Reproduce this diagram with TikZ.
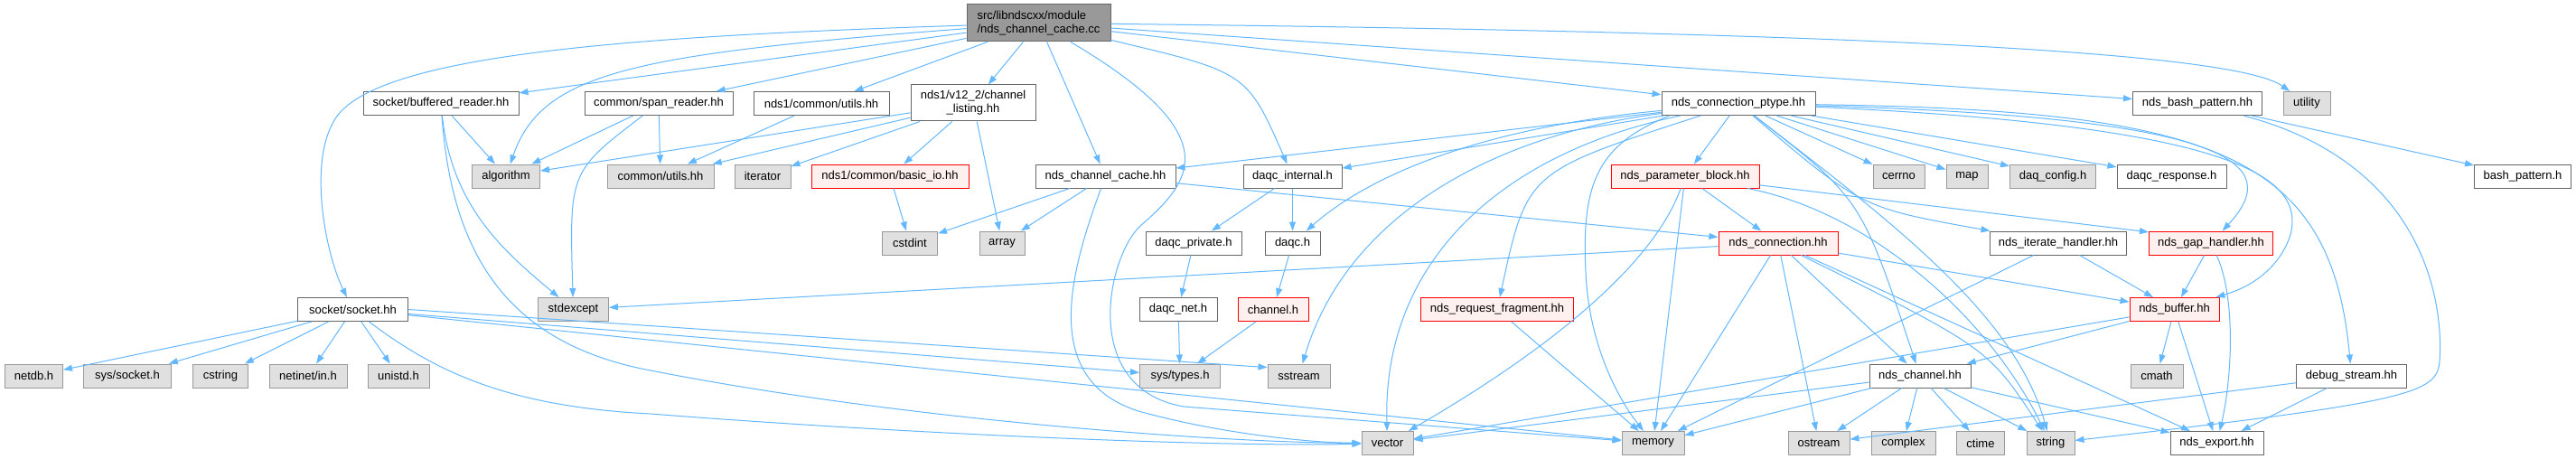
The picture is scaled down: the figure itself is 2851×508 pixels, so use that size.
\documentclass[tikz,border=0pt]{standalone}
\usepackage{fontspec}
\setmainfont{Liberation Sans}
\usetikzlibrary{arrows.meta}

\definecolor{linkblue}{HTML}{63B8FF}
\definecolor{sysfill}{HTML}{E0E0E0}
\definecolor{sysline}{HTML}{999999}
\definecolor{fileline}{HTML}{666666}
\definecolor{cutfill}{HTML}{FFF0F0}

\begin{document}
\begin{tikzpicture}[
				x=1pt, y=-1pt,
				file/.style={draw=fileline, fill=white, line width=1pt, inner sep=0pt,
					minimum height=26pt, font=\fontsize{13}{15}\selectfont},
				sys/.style={file, draw=sysline, fill=sysfill},
				cut/.style={file, draw=red, fill=cutfill},
				root/.style={file, fill=sysline, minimum height=41pt, align=left},
				inc/.style={draw=linkblue, line width=1pt, -{Triangle[length=10pt, width=7pt]}}
				]
				\useasboundingbox[fill=white] (0,0) rectangle (2851,508);

				\node[root, minimum width=159pt] (main) at (1149.5,25.5) {src/libndscxx/module\\/nds\_channel\_cache.cc};

				\node[file, minimum width=172pt] (bufrd) at (488,114.5) {socket/buffered\_reader.hh};
				\node[file, minimum width=164pt] (spanrd) at (729,114.5) {common/span\_reader.hh};
				\node[file, minimum width=150pt] (nds1utils) at (909,114.5) {nds1/common/utils.hh};
				\node[file, minimum width=138pt, minimum height=40pt, align=center] (chlist) at (1077,114) {nds1/v12\_2/channel\\\_listing.hh};
				\node[file, minimum width=170pt] (ptype) at (1924,114.5) {nds\_connection\_ptype.hh};
				\node[file, minimum width=143pt] (bashpat) at (2432,114.5) {nds\_bash\_pattern.hh};
				\node[sys, minimum width=52pt] (utility) at (2553,114.5) {utility};

				\node[sys, minimum width=75pt] (algorithm) at (560,195) {algorithm};
				\node[sys, minimum width=118pt] (cutils) at (731,195) {common/utils.hh};
				\node[sys, minimum width=62pt] (iterator) at (844,195) {iterator};
				\node[cut, minimum width=174pt] (basicio) at (985,195) {nds1/common/basic\_io.hh};
				\node[file, minimum width=155pt] (cachehh) at (1223.5,195) {nds\_channel\_cache.hh};
				\node[file, minimum width=109pt] (dinternal) at (1430.5,195) {daqc\_internal.h};
				\node[cut, minimum width=164pt] (parblock) at (1865,195) {nds\_parameter\_block.hh};
				\node[sys, minimum width=57pt] (cerrno) at (2101.5,195) {cerrno};
				\node[sys, minimum width=46pt] (map) at (2177,195) {map};
				\node[sys, minimum width=95pt] (daqconfig) at (2272,195) {daq\_config.h};
				\node[file, minimum width=121pt] (dresponse) at (2403.5,195) {daqc\_response.h};
				\node[file, minimum width=107pt] (bashh) at (2792,195) {bash\_pattern.h};

				\node[sys, minimum width=61pt] (cstdint) at (1007,269) {cstdint};
				\node[sys, minimum width=50pt] (array) at (1109,269) {array};
				\node[file, minimum width=106pt] (dprivate) at (1321,269) {daqc\_private.h};
				\node[file, minimum width=61pt] (daqch) at (1430.5,269) {daqc.h};
				\node[cut, minimum width=132pt] (conn) at (1968,269) {nds\_connection.hh};
				\node[file, minimum width=151pt] (iterh) at (2278,269) {nds\_iterate\_handler.hh};
				\node[cut, minimum width=137pt] (gaph) at (2447,269) {nds\_gap\_handler.hh};

				\node[file, minimum width=122pt] (socket) at (390.5,342.5) {socket/socket.hh};
				\node[sys, minimum width=78pt] (stdexcept) at (634.5,342.5) {stdexcept};
				\node[file, minimum width=86pt] (dnet) at (1304,342.5) {daqc\_net.h};
				\node[cut, minimum width=78pt] (channelh) at (1409,342.5) {channel.h};
				\node[cut, minimum width=169pt] (reqfrag) at (1657,342.5) {nds\_request\_fragment.hh};
				\node[cut, minimum width=99pt] (buffer) at (2406.5,342.5) {nds\_buffer.hh};

				\node[sys, minimum width=64pt] (netdb) at (37.5,416) {netdb.h};
				\node[sys, minimum width=97pt] (syssocket) at (141,416) {sys/socket.h};
				\node[sys, minimum width=61pt] (cstring) at (244,416) {cstring};
				\node[sys, minimum width=86pt] (netinet) at (341,416) {netinet/in.h};
				\node[sys, minimum width=68pt] (unistd) at (441,416) {unistd.h};
				\node[sys, minimum width=89pt] (systypes) at (1306,416) {sys/types.h};
				\node[sys, minimum width=69pt] (sstream) at (1437.5,416) {sstream};
				\node[file, minimum width=112pt] (chanhh) at (2125,416) {nds\_channel.hh};
				\node[sys, minimum width=58pt] (cmath) at (2387,416) {cmath};
				\node[file, minimum width=122pt] (debugst) at (2602.5,416) {debug\_stream.hh};

				\node[sys, minimum width=57pt] (vector) at (1535.5,490.5) {vector};
				\node[sys, minimum width=69pt] (memory) at (1829.5,490.5) {memory};
				\node[sys, minimum width=68pt] (ostream) at (2013,490.5) {ostream};
				\node[sys, minimum width=71pt] (complex) at (2106.5,490.5) {complex};
				\node[sys, minimum width=53pt] (ctime) at (2192,490.5) {ctime};
				\node[sys, minimum width=53pt] (string) at (2269.5,490.5) {string};
				\node[file, minimum width=103pt] (export) at (2453.5,490.5) {nds\_export.hh};

				\path (main) edge[inc] (bufrd) edge[inc] (spanrd) edge[inc] (nds1utils)
					edge[inc] (chlist) edge[inc] (cachehh) edge[inc] (ptype) edge[inc] (bashpat);
				\draw[inc] (main) .. controls (700,40) and (420,60) .. (372,130) .. controls (340,177) and (360,280) .. (socket);
				\draw[inc] (main) .. controls (700,60) and (600,80) .. (algorithm);
				\draw[inc] (main) .. controls (1360,150) and (1320,200) .. (1262,250) .. controls (1225,285) and (1195,430) .. (1310,450) -- (memory);
				\draw[inc] (main) .. controls (1380,80) .. (dinternal);
				\draw[inc] (main) .. controls (2000,35) and (2470,55) .. (utility);

				\path (bufrd) edge[inc] (algorithm);
				\draw[inc] (bufrd) .. controls (500,230) and (560,280) .. (stdexcept);
				\draw[inc] (bufrd) .. controls (500,280) and (560,380) .. (720,410) .. controls (1000,465) and (1350,490) .. (vector);
				\path (spanrd) edge[inc] (algorithm) edge[inc] (cutils);
				\draw[inc] (spanrd) .. controls (630,190) .. (stdexcept);
				\path (nds1utils) edge[inc] (cutils);
				\path (chlist) edge[inc] (algorithm) edge[inc] (cutils) edge[inc] (iterator)
					edge[inc] (basicio) edge[inc] (array);
				\path (basicio) edge[inc] (cstdint);
				\path (cachehh) edge[inc] (cstdint) edge[inc] (array) edge[inc] (conn);
				\draw[inc] (cachehh) .. controls (1185,300) and (1150,420) .. (1260,455) .. controls (1350,480) and (1450,490) .. (vector);

				\path (dinternal) edge[inc] (dprivate) edge[inc] (daqch);
				\path (dprivate) edge[inc] (dnet);
				\path (dnet) edge[inc] (systypes);
				\path (daqch) edge[inc] (channelh);
				\path (channelh) edge[inc] (systypes);

				\path (socket) edge[inc] (netdb) edge[inc] (syssocket) edge[inc] (cstring)
					edge[inc] (netinet) edge[inc] (unistd) edge[inc] (systypes) edge[inc] (memory);
				\draw[inc] (socket.east) -- (sstream.165);
				\draw[inc] (socket) .. controls (480,410) and (560,450) .. (720,458) .. controls (1000,480) and (1350,495) .. (vector);

				\path (ptype) edge[inc] (cachehh) edge[inc] (dinternal) edge[inc] (parblock)
					edge[inc] (cerrno) edge[inc] (map) edge[inc] (daqconfig) edge[inc] (dresponse);
				\draw[inc] (ptype) .. controls (1650,140) and (1520,190) .. (daqch);
				\draw[inc] (ptype) .. controls (1650,150) and (1490,240) .. (sstream);
				\draw[inc] (ptype) .. controls (1660,170) and (1530,290) .. (vector);
				\draw[inc] (ptype) .. controls (1690,190) .. (reqfrag);
				\draw[inc] (ptype.190) .. controls (1770,160) and (1750,200) .. (1755,300) .. controls (1758,380) and (1790,440) .. (memory);
				\draw[inc] (ptype) .. controls (2060,220) .. (chanhh);
				\draw[inc] (ptype) .. controls (2100,250) and (2230,350) .. (string);
				\draw[inc] (ptype) .. controls (2060,230) .. (iterh);
				\draw[inc] (ptype) .. controls (2470,130) and (2530,180) .. (gaph);
				\draw[inc] (ptype) .. controls (2490,140) and (2550,200) .. (2535,260) .. controls (2525,290) and (2500,315) .. (buffer);
				\draw[inc] (ptype) .. controls (2450,122) and (2580,170) .. (debugst);

				\path (parblock) edge[inc] (conn) edge[inc] (memory);
				\draw[inc] (parblock) -- (gaph.170);
				\draw[inc] (parblock) .. controls (1820,320) and (1640,430) .. (vector);
				\draw[inc] (parblock) .. controls (2070,235) and (2200,350) .. (string);

				\path (conn) edge[inc] (stdexcept) edge[inc] (memory) edge[inc] (ostream)
					edge[inc] (chanhh) edge[inc] (buffer) edge[inc] (export);
				\draw[inc] (conn.332) .. controls (2200,385) .. (string);
				\path (iterh) edge[inc] (buffer) edge[inc] (memory);
				\path (gaph) edge[inc] (buffer);
				\draw[inc] (gaph) .. controls (2475,330) and (2470,420) .. (export);
				\path (reqfrag) edge[inc] (memory);
				\path (buffer) edge[inc] (cmath) edge[inc] (export) edge[inc] (chanhh) edge[inc] (vector);
				\path (chanhh) edge[inc] (vector) edge[inc] (memory) edge[inc] (ostream)
					edge[inc] (complex) edge[inc] (ctime) edge[inc] (string) edge[inc] (export);
				\path (debugst) edge[inc] (ostream) edge[inc] (export);
				\path (bashpat) edge[inc] (bashh);
				\draw[inc] (bashpat) .. controls (2680,180) and (2705,330) .. (2700,400) .. controls (2697,435) and (2670,445) .. (string);
			\end{tikzpicture}
\end{document}
